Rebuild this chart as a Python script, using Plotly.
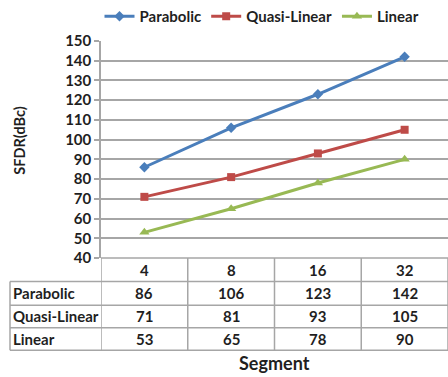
import plotly.graph_objects as go

categories = ["4", "8", "16", "32"]
series_names = ["Parabolic", "Quasi-Linear", "Linear"]
parabolic = [86, 106, 123, 142]
quasi_linear = [71, 81, 93, 105]
linear = [53, 65, 78, 90]
values = [parabolic, quasi_linear, linear]
colors = ["#4a7ebb", "#be4b48", "#98b954"]
symbols = ["diamond", "square", "triangle-up"]
marker_sizes = [8, 8, 9]

W, H = 448, 377
L, R, T, B = 101, 0, 37, 119
plot_h = H - T - B
plot_w = W - L - R

FONT = "Lato"
TXT = "#1f1f1f"
GRID = "#a6a6a6"

fig = go.Figure()
xs = list(range(len(categories)))
for name, vals, c, s, ms in zip(series_names, values, colors, symbols, marker_sizes):
    fig.add_trace(go.Scatter(
        x=xs, y=vals, name=name, mode="lines+markers",
        line=dict(color=c, width=3),
        marker=dict(symbol=s, size=ms, color=c),
    ))

def py(pix):
    return (T + plot_h - pix) / plot_h

def px(pix):
    return (pix - L) / plot_w

row_lines = [258, 282, 306, 329, 352]
shapes = []
for i, yl in enumerate(row_lines):
    x0 = 0 if i == 0 else px(10)
    shapes.append(dict(type="line", xref="paper", yref="paper", x0=x0, x1=1.02,
                       y0=py(yl), y1=py(yl), line=dict(color=GRID, width=1.5)))
for k in range(len(categories) + 1):
    shapes.append(dict(type="line", xref="x", yref="paper", x0=k - 0.5, x1=k - 0.5,
                       y0=py(row_lines[0]), y1=py(row_lines[-1]),
                       line=dict(color=GRID, width=1.5)))
shapes.append(dict(type="line", xref="paper", yref="paper", x0=px(10), x1=px(10),
                   y0=py(row_lines[1]), y1=py(row_lines[-1]),
                   line=dict(color=GRID, width=1.5)))

annotations = []
tfont = dict(family=FONT, size=15, color=TXT, weight="bold")
for k, cat in enumerate(categories):
    annotations.append(dict(x=k, xref="x", y=py((row_lines[0] + row_lines[1]) / 2), yref="paper",
                            text=cat, showarrow=False, font=tfont, yanchor="middle"))
for r, (name, vals) in enumerate(zip(series_names, values)):
    yc = py((row_lines[r + 1] + row_lines[r + 2]) / 2)
    annotations.append(dict(x=px(11), xref="paper", y=yc, yref="paper", text=name,
                            showarrow=False, font=tfont, xanchor="left", yanchor="middle"))
    for k, v in enumerate(vals):
        annotations.append(dict(x=k, xref="x", y=yc, yref="paper", text=str(v),
                                showarrow=False, font=tfont, yanchor="middle"))
annotations.append(dict(x=0.5, xref="paper", y=py(365), yref="paper", text="Segment",
                        showarrow=False, font=dict(family=FONT, size=18, color=TXT, weight="bold"),
                        yanchor="middle"))
annotations.append(dict(x=px(20), xref="paper", y=py(138.5), yref="paper", text="SFDR(dBc)",
                        showarrow=False, textangle=-90,
                        font=dict(family=FONT, size=14.5, color=TXT, weight="bold"),
                        xanchor="center", yanchor="middle"))

fig.update_layout(
    width=W, height=H,
    margin=dict(l=L, r=R, t=T, b=B),
    paper_bgcolor="white", plot_bgcolor="white",
    font=dict(family=FONT, size=15, color=TXT, weight="bold"),
    showlegend=True,
    legend=dict(orientation="h", x=px(262), xanchor="center", y=py(12), yanchor="middle",
                font=dict(family=FONT, size=15, color=TXT, weight="bold"),
                itemwidth=30, tracegroupgap=0, bgcolor="rgba(0,0,0,0)"),
    xaxis=dict(range=[-0.5, 3.5], showticklabels=False, showgrid=False, zeroline=False,
               showline=False, ticks=""),
    yaxis=dict(range=[40, 150], dtick=10, tick0=40, showgrid=True, gridcolor=GRID, gridwidth=1.5,
               zeroline=False, showline=True, linecolor=GRID, linewidth=1.5,
               ticks="outside", ticklen=5, tickcolor=GRID, tickwidth=1.5,
               tickfont=dict(family=FONT, size=15, color=TXT, weight="bold")),
    shapes=shapes,
    annotations=annotations,
)

fig.write_html("out.html")
